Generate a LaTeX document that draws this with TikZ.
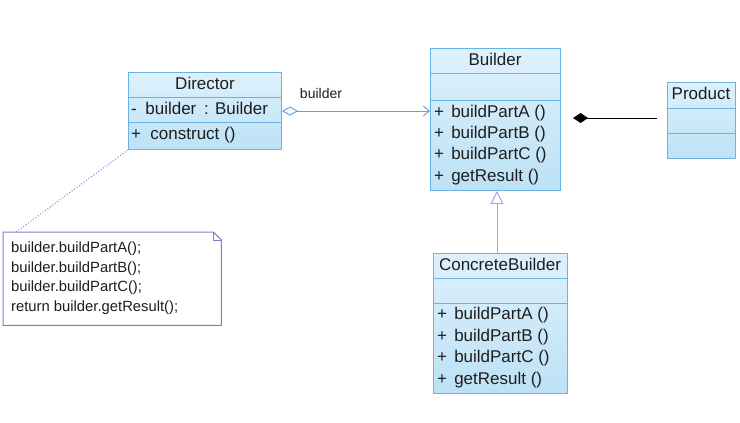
\documentclass[tikz,border=0pt]{standalone}
\usepackage{fontspec}
\setmainfont{Liberation Sans}
\usetikzlibrary{arrows.meta,calc}
\definecolor{boxline}{RGB}{105,180,228}
\definecolor{boxtop}{RGB}{222,241,252}
\definecolor{boxbot}{RGB}{188,225,246}
\definecolor{txt}{RGB}{30,30,30}
\definecolor{aggcol}{RGB}{95,160,225}
\definecolor{gencol}{RGB}{165,165,235}
\definecolor{notecol}{RGB}{125,125,215}
\begin{document}
\begin{tikzpicture}[x=1pt,y=-1pt,
  umlbox/.style={draw=boxline,line width=1pt,top color=boxtop,bottom color=boxbot,inner sep=0pt,anchor=north west},
  sepline/.style={draw=boxline,line width=1pt},
  ttl/.style={text=txt,font=\fontsize{17}{20}\selectfont,inner sep=0pt,text height=12.5pt,text depth=3.5pt},
  mem/.style={ttl,anchor=west},
  lbl/.style={text=txt,font=\fontsize{14}{16}\selectfont,inner sep=0pt},
  notetxt/.style={text=txt,font=\fontsize{14.8}{19.5}\selectfont,inner sep=0pt,align=left,anchor=west},
  aggline/.style={draw=aggcol,line width=0.9pt},
  genline/.style={draw=gencol,line width=1pt},
  compline/.style={draw=black,line width=1pt},
  noteline/.style={draw=notecol,line width=1pt,fill=white},
  dotline/.style={draw=notecol,line width=1pt,dotted},
]
\useasboundingbox (0,0) rectangle (740,423);

% Director
\node[umlbox,minimum width=153pt,minimum height=77pt] (dir) at (128,72) {};
\draw[sepline] ([yshift=-25pt]dir.north west) -- ([yshift=-25pt]dir.north east);
\draw[sepline] ([yshift=-50pt]dir.north west) -- ([yshift=-50pt]dir.north east);
\node[ttl] (dirT) at (205,85) {Director};
\node[mem] (dirA) at (131,110) {-\hspace{0.5em}builder\hspace{0.45em}: Builder};
\node[mem] (dirM) at (131,135) {+\hspace{0.55em}construct ()};

% Builder
\node[umlbox,minimum width=130pt,minimum height=142pt] (bld) at (430,48) {};
\draw[sepline] ([yshift=-25pt]bld.north west) -- ([yshift=-25pt]bld.north east);
\draw[sepline] ([yshift=-52pt]bld.north west) -- ([yshift=-52pt]bld.north east);
\node[ttl] (bldT) at (495,61) {Builder};
\node[mem] (bld1) at (434,113) {+\hspace{0.42em}buildPartA ()};
\node[mem] (bld2) at (434,134) {+\hspace{0.42em}buildPartB ()};
\node[mem] (bld3) at (434,155) {+\hspace{0.42em}buildPartC ()};
\node[mem] (bld4) at (434,177) {+\hspace{0.42em}getResult ()};

% Product
\node[umlbox,minimum width=68pt,minimum height=76pt] (prod) at (667,82) {};
\draw[sepline] ([yshift=-26pt]prod.north west) -- ([yshift=-26pt]prod.north east);
\draw[sepline] ([yshift=-51pt]prod.north west) -- ([yshift=-51pt]prod.north east);
\node[ttl] (prodT) at (701,95) {Product};

% ConcreteBuilder
\node[umlbox,minimum width=134pt,minimum height=140pt] (cb) at (433,253) {};
\draw[sepline] ([yshift=-25pt]cb.north west) -- ([yshift=-25pt]cb.north east);
\draw[sepline] ([yshift=-50pt]cb.north west) -- ([yshift=-50pt]cb.north east);
\node[ttl] (cbT) at (500,266) {ConcreteBuilder};
\node[mem] (cb1) at (437,315) {+\hspace{0.42em}buildPartA ()};
\node[mem] (cb2) at (437,337) {+\hspace{0.42em}buildPartB ()};
\node[mem] (cb3) at (437,358) {+\hspace{0.42em}buildPartC ()};
\node[mem] (cb4) at (437,380) {+\hspace{0.42em}getResult ()};

% Note
\node[inner sep=0pt,minimum width=218pt,minimum height=93pt,anchor=north west] (note) at (3,232) {};
\draw[noteline] (note.north west) -- ([xshift=-8pt]note.north east) -- ([yshift=-8pt]note.north east) -- (note.south east) -- (note.south west) -- cycle;
\draw[noteline,fill=none] ([xshift=-8pt]note.north east) -- ([xshift=-8pt,yshift=-8pt]note.north east) -- ([yshift=-8pt]note.north east);
\node[notetxt] (noteT) at (11,278) {builder.buildPartA();\\builder.buildPartB();\\builder.buildPartC();\\return builder.getResult();};

% Connectors
\draw[dotline] ([xshift=13pt]note.north west) -- (dir.south west);
\draw[aggline,{Diamond[open,fill=white,length=16pt,width=9pt]}-{Straight Barb[length=6pt,width=10pt]}] (dir.east) -- (dir.east -| bld.west);
\node[lbl] (aggL) at (321,93) {builder};
\draw[genline,-{Triangle[open,fill=white,length=13pt,width=13pt]}] (cb.north -| 497,0) -- (bld.south -| 497,0);
\draw[compline,{Diamond[length=15pt,width=10pt]}-,shorten <=12pt,shorten >=10pt] (bld.east |- 0,118) -- (prod.west |- 0,118);
\end{tikzpicture}
\end{document}
